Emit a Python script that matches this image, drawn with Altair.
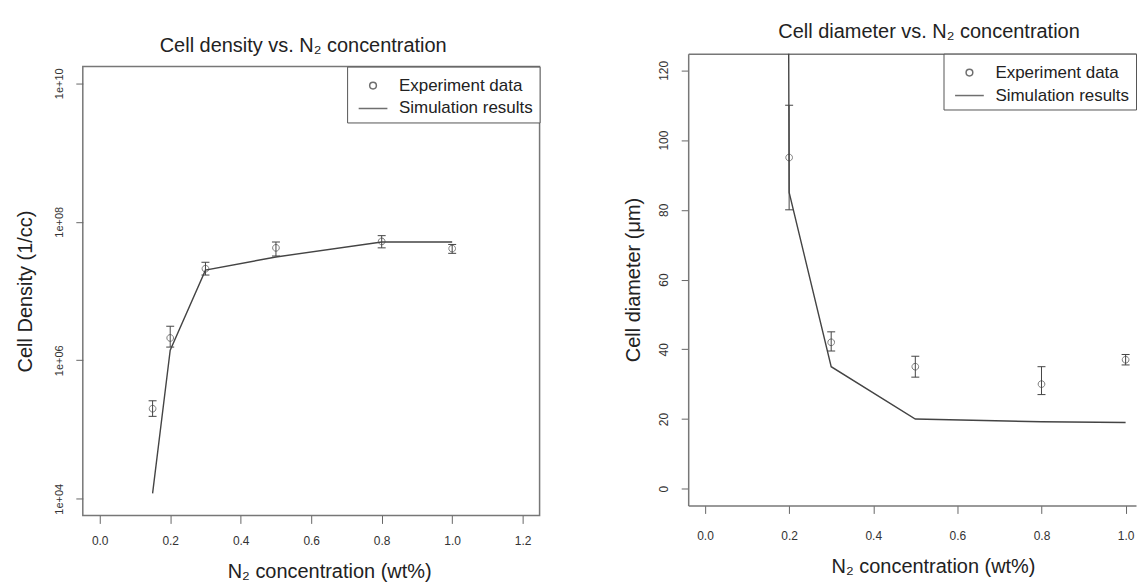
import altair as alt
import pandas as pd

FONT = "Liberation Sans"
INK = "#444444"

# ---- Left panel: cell density (1/cc) ----
dens_x = [0.15, 0.2, 0.3, 0.5, 0.8, 1.0]
dens_exp = [2.0e5, 2.1e6, 2.1e7, 4.2e7, 5.2e7, 4.1e7]
dens_lo = [1.55e5, 1.55e6, 1.7e7, 3.2e7, 4.2e7, 3.5e7]
dens_hi = [2.6e5, 3.1e6, 2.6e7, 5.1e7, 6.3e7, 4.7e7]
dens_sim_x = [0.15, 0.2, 0.3, 0.5, 0.8, 1.0]
dens_sim = [1.2e4, 1.4e6, 2.0e7, 3.1e7, 5.1e7, 5.1e7]
dens_ticks = [1e4, 1e6, 1e8, 1e10]
dens_xticks = [0.0, 0.2, 0.4, 0.6, 0.8, 1.0, 1.2]

# ---- Right panel: cell diameter (um) ----
diam_x = [0.2, 0.3, 0.5, 0.8, 1.0]
diam_exp = [95, 42, 35, 30, 37]
diam_lo = [80, 39.5, 32, 27, 35.5]
diam_hi = [110, 45, 38, 35, 38.5]
diam_sim_x = [0.15, 0.2, 0.3, 0.5, 0.8, 1.0]
diam_sim = [2000, 85, 35, 20, 19.2, 19]
diam_ticks = [0, 20, 40, 60, 80, 100, 120]
diam_xticks = [0.0, 0.2, 0.4, 0.6, 0.8, 1.0]

series = ["Experiment data", "Simulation results"]
CIRCLE = "M-0.28,0A0.28,0.28 0 1,0 0.28,0A0.28,0.28 0 1,0 -0.28,0"
DASH = "M-1.2,0L1.2,0"
SYM = 576
PAD = "\u00a0" * 9


def shape_enc():
    return alt.Shape(
        "series:N",
        scale=alt.Scale(domain=series, range=[CIRCLE, DASH]),
        legend=alt.Legend(
            title=None, orient="top-right", offset=0, padding=6, rowPadding=2,
            labelOffset=13, symbolOffset=7, labelFontSize=17, labelFont=FONT,
            labelColor="#222", labelExpr="datum.label + '" + PAD + "'", labelLimit=300,
            symbolSize=SYM, symbolStrokeWidth=1.5, symbolStrokeColor="#333",
            strokeColor="#555", fillColor="white",
        ),
    )


def panel(exp_df, sim_df, xdom, xvals, ydom, yvals, yscale_type, ylabel_expr, ylab_size,
          ytitle, ytitle_pad, w, h, title, xtitle_shift, xlab_pad, xtitle_pad, frame_axes):
    xs = alt.Scale(domain=xdom, nice=False, zero=False)
    ys = alt.Scale(domain=ydom, type=yscale_type, nice=False, zero=False)
    xtitle = "N\u2082 concentration (wt%)"
    x_axis = alt.Axis(values=xvals, format=".1f", tickSize=8, labelPadding=xlab_pad,
                      labelFontSize=12, title=xtitle, titlePadding=xtitle_pad,
                      titleX=w / 2 + xtitle_shift, domain=frame_axes,
                      domainColor="#777", domainWidth=1.5)
    yax = dict(values=yvals, labelAngle=270, labelAlign="center", labelBaseline="bottom",
               labelPadding=11, tickSize=7, labelFontSize=ylab_size, title=ytitle,
               titlePadding=ytitle_pad, domain=frame_axes, domainColor="#777",
               domainWidth=1.5)
    if ylabel_expr:
        yax["labelExpr"] = ylabel_expr
    y_axis = alt.Axis(**yax)

    def X(**kw):
        return alt.X("x:Q", scale=xs, title=xtitle, **kw)

    def Y(field, **kw):
        return alt.Y(field, scale=ys, title=ytitle, **kw)

    line = alt.Chart(sim_df).mark_line(color=INK, strokeWidth=1.4, clip=True).encode(
        x=X(axis=x_axis), y=Y("y:Q", axis=y_axis),
    )
    extra = {"axis": None} if frame_axes else {}
    bars = alt.Chart(exp_df).mark_rule(color=INK, strokeWidth=1).encode(
        x=X(**extra), y=Y("lo:Q"), y2="hi:Q",
    )
    cap_lo = alt.Chart(exp_df).mark_rule(color=INK, strokeWidth=1, xOffset=-4, x2Offset=4).encode(
        x=X(**extra), x2="x:Q", y=Y("lo:Q"),
    )
    cap_hi = alt.Chart(exp_df).mark_rule(color=INK, strokeWidth=1, xOffset=-4, x2Offset=4).encode(
        x=X(**extra), x2="x:Q", y=Y("hi:Q"),
    )
    if frame_axes:
        pkw = {"axis": alt.Axis(orient="top", labels=False, ticks=False, title=None,
                                domain=True, domainColor="#777", domainWidth=1.5)}
    else:
        pkw = {}
    pts = alt.Chart(exp_df).mark_point(filled=False, size=SYM, color=INK, strokeWidth=1).encode(
        x=X(**pkw), y=Y("y:Q"), shape=shape_enc(),
    )
    ch = alt.layer(line, bars, cap_lo, cap_hi, pts).properties(width=w, height=h, title=title)
    if frame_axes:
        ch = ch.resolve_axis(x="independent")
    return ch


dens_exp_df = pd.DataFrame({"x": dens_x, "y": dens_exp, "lo": dens_lo, "hi": dens_hi,
                            "series": series[0]})
dens_sim_df = pd.DataFrame({"x": dens_sim_x, "y": dens_sim})
diam_exp_df = pd.DataFrame({"x": diam_x, "y": diam_exp, "lo": diam_lo, "hi": diam_hi,
                            "series": series[0]})
diam_sim_df = pd.DataFrame({"x": diam_sim_x, "y": diam_sim})

left_title = alt.TitleParams("Cell density vs. N\u2082 concentration", fontSize=20,
                             font=FONT, fontWeight="normal", color="#222", anchor="middle",
                             frame="group", offset=-6, baseline="alphabetic", dx=-8)
right_title = alt.TitleParams("Cell diameter vs. N\u2082 concentration", fontSize=20,
                              font=FONT, fontWeight="normal", color="#222", anchor="middle",
                              frame="group", offset=-5, baseline="alphabetic", dx=17)

left = panel(dens_exp_df, dens_sim_df, [-0.048, 1.248], dens_xticks,
             [10 ** 3.76, 10 ** 10.24], dens_ticks, "log",
             "'1e+' + format(round(log(datum.value) / LN10), '02d')", 11,
             "Cell Density (1/cc)", 18, 458, 450, left_title, 18, 12, 15, False)
left = left.properties(view=alt.ViewBackground(stroke="#777", strokeWidth=1.5))

spacer = alt.Chart(pd.DataFrame({"v": [0]})).mark_point(opacity=0, size=1).properties(
    width=1, height=13
)
left_col = alt.vconcat(spacer, left, spacing=-35).resolve_legend(
    shape="independent").resolve_scale(shape="independent")

right = panel(diam_exp_df, diam_sim_df, [-0.04, 1.0247], diam_xticks,
              [-4.8, 124.8], diam_ticks, "linear", None, 12,
              "Cell diameter (\u03bcm)", 14, 449, 453, right_title, 21, 17.5, 15, True)
right_col = alt.vconcat(right, spacing=0).resolve_legend(
    shape="independent").resolve_scale(shape="independent")

chart = alt.hconcat(left_col, right_col, spacing=82).resolve_legend(
    shape="independent").resolve_scale(shape="independent").properties(
    padding={"left": 7, "top": 13, "right": 0, "bottom": 0}
).configure(font=FONT).configure_view(stroke=None).configure_axis(
    grid=False, labelFont=FONT, titleFont=FONT, labelColor="#333",
    tickColor="#666", titleFontSize=20, titleFontWeight="normal", titleColor="#222",
)

chart.save("out.html", embed_options={"renderer": "svg", "actions": False})
